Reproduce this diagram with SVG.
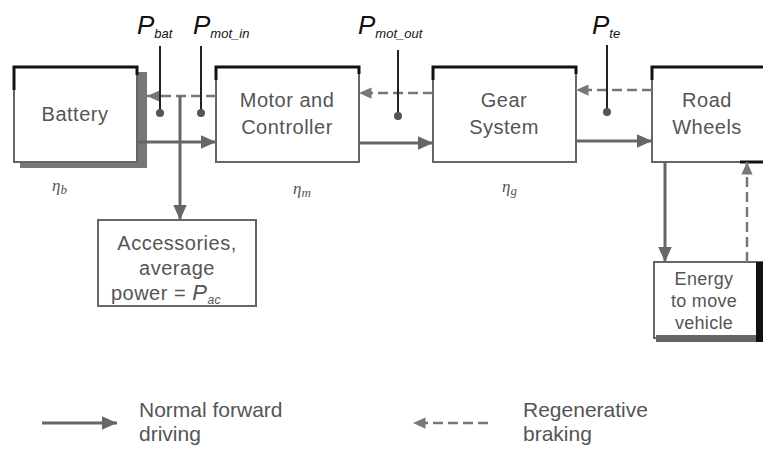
<svg xmlns="http://www.w3.org/2000/svg" width="763" height="450" viewBox="0 0 763 450">
<style>
.box{fill:#fff;stroke:#666;stroke-width:2}
.top{stroke:#111;stroke-width:3;fill:none}
.t{font-family:"Liberation Sans",Arial,sans-serif;font-size:20px;letter-spacing:0.5px;fill:#555;text-anchor:middle}
.ts{font-size:18px;letter-spacing:0.3px}
.lg{font-family:"Liberation Sans",Arial,sans-serif;font-size:21px;fill:#555}
.p{font-family:"Liberation Sans",Arial,sans-serif;font-style:italic;font-size:26px;fill:#111}
.s{font-size:13px}
.eta{font-family:"Liberation Serif","DejaVu Serif",serif;font-style:italic;font-size:17px;fill:#555}
.solid{stroke:#666;stroke-width:3;fill:none}
.dash{stroke:#777;stroke-width:2.5;stroke-dasharray:10 5;fill:none}
.ptr{stroke:#222;stroke-width:2;fill:none}
.dot{fill:#555}
.shadow{fill:#777}
</style>
<defs>
<marker id="ah" viewBox="0 0 10 10" refX="10" refY="5" markerWidth="5" markerHeight="5" orient="auto" markerUnits="strokeWidth">
<path d="M0,0.5 L10,5 L0,9.5 z" fill="#666"/>
</marker>
<marker id="ahd" viewBox="0 0 10 10" refX="10" refY="5" markerWidth="5" markerHeight="5" orient="auto" markerUnits="strokeWidth">
<path d="M0,0.5 L10,5 L0,9.5 z" fill="#777"/>
</marker>
</defs>

<g id="battery">
<rect class="shadow" x="137" y="72" width="10" height="96"/>
<rect class="shadow" x="20" y="160" width="127" height="8"/>
<rect class="box" x="14" y="67" width="123" height="95"/>
<path class="top" d="M14,90 V67 H137 V75"/>
<text class="t" x="75" y="121">Battery</text>
<text class="eta" x="52" y="191">η<tspan class="s" dy="3">b</tspan></text>
</g>

<g id="motor">
<rect class="box" x="216" y="67" width="143" height="95"/>
<path class="top" d="M216,80 V67 H359 V74"/>
<text class="t" x="287" y="107">Motor and</text>
<text class="t" x="287" y="134">Controller</text>
<text class="eta" x="293" y="194">η<tspan class="s" dy="3">m</tspan></text>
</g>

<g id="gear">
<rect class="box" x="433" y="67" width="143" height="95"/>
<path class="top" d="M433,80 V67 H576 V74"/>
<text class="t" x="504" y="107">Gear</text>
<text class="t" x="504" y="134">System</text>
<text class="eta" x="502" y="192">η<tspan class="s" dy="3">g</tspan></text>
</g>

<g id="wheels">
<rect class="box" x="652" y="67" width="120" height="95"/>
<path class="top" d="M652,80 V67 H765"/>
<path class="top" d="M740,162 H765"/>
<text class="t" x="707" y="107">Road</text>
<text class="t" x="707" y="134">Wheels</text>
</g>

<g id="accessories">
<rect class="box" x="98" y="220" width="158" height="86"/>
<text class="t" x="177" y="250">Accessories,</text>
<text class="t" x="177" y="275">average</text>
<text class="t" x="166" y="300">power = <tspan font-style="italic" font-size="22">P</tspan><tspan font-style="italic" font-size="12" dy="4">ac</tspan></text>
</g>

<g id="energy">
<rect class="box" x="654" y="262" width="110" height="76"/>
<rect x="656" y="335" width="107" height="7" fill="#666"/>
<rect x="756" y="262" width="7" height="80" fill="#111"/>
<text class="t ts" x="704" y="285">Energy</text>
<text class="t ts" x="704" y="307">to move</text>
<text class="t ts" x="704" y="329">vehicle</text>
</g>

<g id="labels">
<text class="p" x="137" y="34">P<tspan class="s" dy="4">bat</tspan></text>
<text class="p" x="193" y="34">P<tspan class="s" dy="4">mot_in</tspan></text>
<text class="p" x="358" y="34">P<tspan class="s" dy="4">mot_out</tspan></text>
<text class="p" x="592" y="34">P<tspan class="s" dy="4">te</tspan></text>
</g>

<g id="connectors">
<line class="solid" x1="137" y1="142" x2="216" y2="142" marker-end="url(#ah)"/>
<line class="dash" x1="216" y1="96" x2="147" y2="96" marker-end="url(#ahd)"/>
<line class="solid" x1="180" y1="96" x2="180" y2="220" marker-end="url(#ah)"/>
<line class="solid" x1="359" y1="143" x2="433" y2="143" marker-end="url(#ah)"/>
<line class="dash" x1="433" y1="93" x2="359" y2="93" marker-end="url(#ahd)"/>
<line class="solid" x1="576" y1="141" x2="652" y2="141" marker-end="url(#ah)"/>
<line class="dash" x1="652" y1="90" x2="576" y2="90" marker-end="url(#ahd)"/>
<line class="solid" x1="665" y1="162" x2="665" y2="262" marker-end="url(#ah)"/>
<line class="dash" x1="747" y1="262" x2="747" y2="162" marker-end="url(#ahd)"/>
<line class="ptr" x1="160" y1="46" x2="160" y2="113"/>
<circle class="dot" cx="160" cy="113" r="4"/>
<line class="ptr" x1="201" y1="46" x2="201" y2="113"/>
<circle class="dot" cx="201" cy="113" r="4"/>
<line class="ptr" x1="398" y1="50" x2="398" y2="116"/>
<circle class="dot" cx="398" cy="116" r="4"/>
<line class="ptr" x1="607" y1="45" x2="607" y2="112"/>
<circle class="dot" cx="607" cy="112" r="4"/>
</g>

<g id="legend">
<line class="solid" x1="42" y1="423" x2="117" y2="423" marker-end="url(#ah)"/>
<text class="lg" x="139" y="417">Normal forward</text>
<text class="lg" x="139" y="441">driving</text>
<line class="dash" x1="488" y1="423" x2="413" y2="423" marker-end="url(#ahd)"/>
<text class="lg" x="523" y="417">Regenerative</text>
<text class="lg" x="523" y="441">braking</text>
</g>
</svg>
